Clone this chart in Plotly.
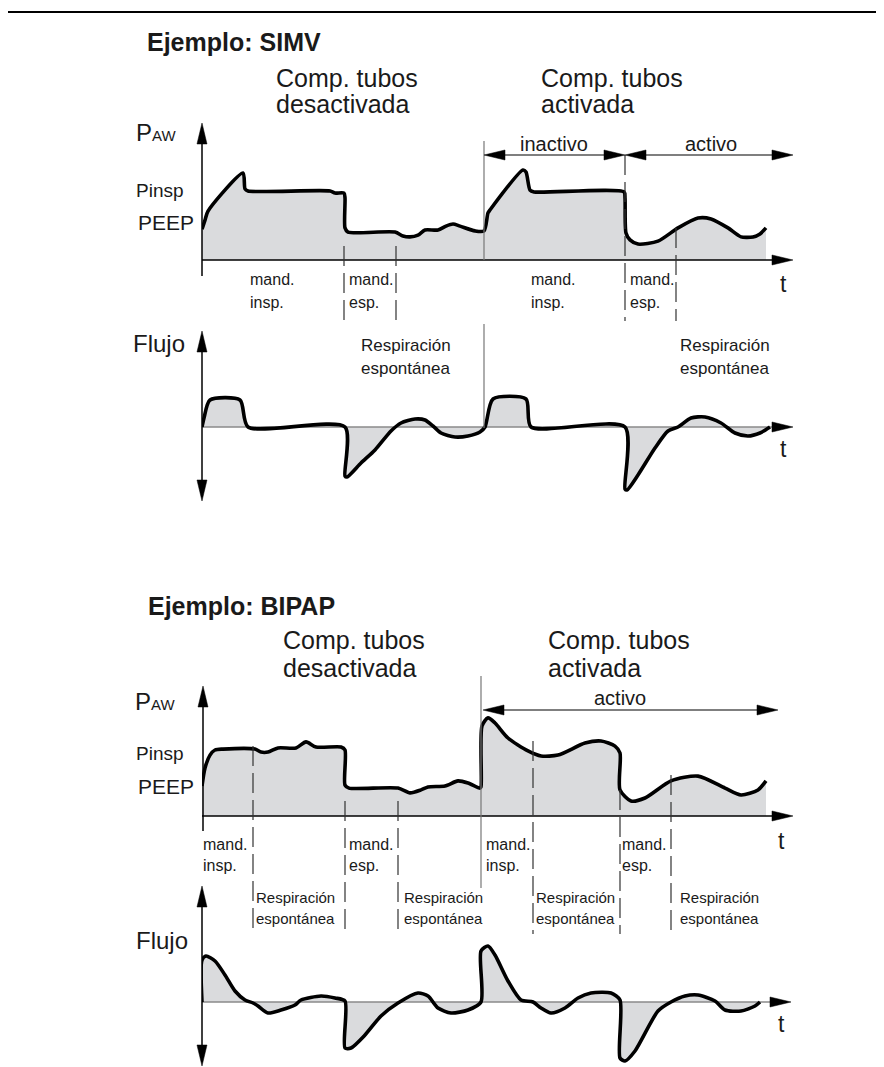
import plotly.graph_objects as go

W, H = 884, 1067
FONT = 'Arial, Liberation Sans, Helvetica, sans-serif'
INK = '#1a1a1a'
FILL = '#dadbdd'

# time in arbitrary units (same scale for all four traces)
# SIMV - airway pressure (cmH2O-like units)
simv_p_t = [0.0, 0.3, 0.6, 4.1, 4.3, 4.6, 12.8, 13.3, 14.2, 14.3, 14.3, 14.6, 19.3, 20.1,
            20.8, 21.6, 22.3, 23.6, 24.4, 25.1, 25.8, 27.3, 28.2, 28.6, 28.8, 32.1, 32.4,
            32.8, 33.2, 42.2, 42.3, 42.4, 42.8, 43.6, 45.6, 47.6, 49.6, 50.9, 52.6, 53.9,
            55.1, 55.8, 56.4]
simv_p = [10.3, 13.3, 16.3, 29.0, 23.7, 23.0, 23.0, 22.3, 22.3, 20.7, 10.7, 9.3, 9.3, 8.0,
          7.7, 8.3, 10.0, 10.0, 11.3, 12.0, 11.3, 9.7, 9.7, 15.7, 16.7, 30.0, 29.3,
          23.3, 22.7, 22.7, 20.7, 9.0, 6.7, 5.3, 6.3, 10.7, 14.0, 13.7, 10.7, 7.7,
          7.7, 8.7, 10.7]

# SIMV - flow
simv_f_t = [0.0, 0.2, 0.8, 3.8, 4.6, 14.3, 14.3, 14.5, 15.9, 17.3, 18.9, 19.9, 21.3, 22.3,
            23.1, 23.9, 25.3, 26.6, 27.8, 28.3, 29.1, 32.4, 32.9, 42.3, 42.3, 42.5, 43.6,
            45.3, 46.6, 47.6, 48.9, 50.3, 51.9, 53.3, 54.6, 55.8, 56.8]
simv_f = [0, 9, 27, 27, 0, 0, -49, -50, -36, -23, -4, 4, 8, 7,
          1, -6, -10, -9, -5, 0, 28, 28, 0, 0, -62, -63, -48,
          -21, -4, 0, 9, 10, 4, -6, -9, -6, 0]

# BIPAP - airway pressure
bipap_p_t = [0.0, 0.3, 0.8, 1.3, 2.1, 5.3, 5.9, 6.6, 7.6, 9.4, 10.4, 11.4, 13.9, 14.3,
             14.3, 14.7, 19.6, 20.8, 21.9, 22.6, 24.3, 25.6, 26.6, 27.8, 27.9, 28.0, 28.6,
             29.3, 30.6, 32.6, 33.9, 35.6, 38.3, 39.9, 41.3, 41.8, 41.8, 42.9, 44.3, 46.9,
             49.6, 52.3, 53.9, 55.6, 56.4]
bipap_p = [10.0, 16.0, 20.3, 22.0, 22.3, 22.3, 21.3, 21.3, 22.7, 22.7, 24.7, 23.0, 23.0, 22.0,
           10.3, 9.3, 9.3, 7.7, 8.7, 9.7, 10.0, 11.7, 11.0, 9.3, 9.7, 30.0, 32.7,
           31.0, 26.0, 21.7, 20.0, 20.3, 24.3, 25.0, 23.3, 21.0, 8.7, 5.0, 6.0, 11.7,
           13.3, 9.3, 7.0, 8.7, 11.7]

# BIPAP - flow
bipap_f_t = [0.0, 0.0, 0.4, 1.3, 2.3, 3.3, 4.3, 5.1, 5.6, 6.6, 7.9, 9.3, 9.9, 11.9, 13.3,
             14.3, 14.3, 14.9, 16.3, 17.9, 19.6, 21.6, 22.6, 23.6, 24.9, 26.6, 27.9, 27.9,
             28.6, 29.3, 30.6, 31.9, 33.1, 33.9, 34.9, 36.3, 37.6, 38.9, 40.9, 41.8, 41.8,
             42.3, 43.3, 45.6, 46.9, 48.3, 49.6, 51.3, 52.3, 53.9, 55.3, 55.8]
bipap_f = [0, 42, 46, 41, 27, 11, 2, -1, -4, -11, -8, -3, 2, 6, 4,
           1, -46, -46, -33, -14, -1, 9, 6, -6, -11, -8, 0, 51,
           56, 47, 21, 2, 0, -6, -11, -6, 4, 9, 9, 2, -56,
           -59, -49, -9, 0, 6, 7, 1, -8, -9, -4, 0]


def fx(x):
    return x / W


def fy(y):
    return 1 - y / H


fig = go.Figure()

# panel: axis suffix, data, top px, bottom px, y range, baseline colour
panels = [
    ('', simv_p_t, simv_p, 114, 270, [-6, 46], 'black'),
    ('2', simv_f_t, simv_f, 320, 500, [-81, 99], '#8a8a8a'),
    ('3', bipap_p_t, bipap_p, 676, 826, [-6, 44], 'black'),
    ('4', bipap_f_t, bipap_f, 876, 1062, [-68, 118], '#8a8a8a'),
]

axes = {}
for sfx, t, v, top, bot, yr, base_col in panels:
    xa, ya = 'x' + sfx, 'y' + sfx
    fig.add_trace(go.Scatter(x=t, y=v, mode='lines', fill='tozeroy', fillcolor=FILL,
                             line=dict(width=0, shape='spline', smoothing=0.7),
                             xaxis=xa, yaxis=ya, hoverinfo='skip'))
    fig.add_trace(go.Scatter(x=[0, 58], y=[0, 0], mode='lines',
                             line=dict(color=base_col, width=1.5),
                             xaxis=xa, yaxis=ya, hoverinfo='skip'))
    fig.add_trace(go.Scatter(x=t, y=v, mode='lines',
                             line=dict(color='black', width=3.6, shape='spline', smoothing=0.7),
                             xaxis=xa, yaxis=ya, hoverinfo='skip'))
    axes['xaxis' + sfx] = dict(domain=[fx(194), fx(784)], range=[0, 59], visible=False,
                               anchor=ya, fixedrange=True)
    axes['yaxis' + sfx] = dict(domain=[fy(bot), fy(top)], range=yr, visible=False,
                               anchor=xa, fixedrange=True)

shapes = []
annots = []


def seg(x0, y0, x1, y1, color='black', width=1.5, dash='solid'):
    shapes.append(dict(type='line', xref='paper', yref='paper',
                       x0=fx(x0), y0=fy(y0), x1=fx(x1), y1=fy(y1),
                       line=dict(color=color, width=width, dash=dash)))


def head(tx, ty, d, length=21, half=5):
    if d == 'right':
        pts = [(tx, ty), (tx - length, ty - half), (tx - length, ty + half)]
    elif d == 'left':
        pts = [(tx, ty), (tx + length, ty - half), (tx + length, ty + half)]
    elif d == 'up':
        pts = [(tx, ty), (tx - half, ty + length), (tx + half, ty + length)]
    else:
        pts = [(tx, ty), (tx - half, ty - length), (tx + half, ty - length)]
    path = 'M ' + ' L '.join(f'{fx(a):.5f},{fy(b):.5f}' for a, b in pts) + ' Z'
    shapes.append(dict(type='path', xref='paper', yref='paper', path=path,
                       fillcolor='black', line=dict(color='black', width=0.5)))


def text(x, y, s, size, bold=False, anchor='left'):
    annots.append(dict(xref='paper', yref='paper', x=fx(x), y=fy(y),
                       text=f'<b>{s}</b>' if bold else s, showarrow=False,
                       xanchor=anchor, yanchor='middle',
                       font=dict(size=size, color=INK, family=FONT)))


def dashed(x, y0, y1):
    seg(x, y0, x, y1, color='#333333', width=1.2, dash='20px,7px')


# top rule
seg(0, 4, W, 4, width=2)

# ---------- SIMV ----------
text(137, 34, 'Ejemplo: SIMV', 25, bold=True)
text(266, 70, 'Comp. tubos', 25)
text(266, 96, 'desactivada', 25)
text(531, 70, 'Comp. tubos', 25)
text(531, 96, 'activada', 25)

# pressure axes
seg(194, 268, 194, 132)
head(194, 115, 'up')
head(785, 252, 'right')
text(126, 124, 'P<span style="font-size:15px">AW</span>', 24)
text(126, 183, 'Pinsp', 19)
text(128, 214, 'PEEP', 21)
text(770, 276, 't', 23)

# flow axes
seg(194, 338, 194, 478)
head(194, 323, 'up')
head(194, 493, 'down')
head(785, 419, 'right')
text(123, 335, 'Flujo', 24)
text(770, 441, 't', 23)

# phase markers
seg(476, 133, 476, 252, color='#777777', width=1.2)
seg(476, 316, 476, 420, color='#777777', width=1.2)
for x, y0 in [(336, 238), (388, 238), (617, 147), (668, 220)]:
    dashed(x, y0, 313)

# inactivo / activo arrows
seg(490, 147, 603, 147, width=1.2)
head(476, 147, 'left')
head(617, 147, 'right')
seg(631, 147, 770, 147, width=1.2)
head(617, 147, 'left')
head(785, 147, 'right')
text(546, 136, 'inactivo', 20, anchor='center')
text(703, 136, 'activo', 20, anchor='center')

for x, a, b in [(240, 'mand.', 'insp.'), (339, 'mand.', 'esp.'),
                (521, 'mand.', 'insp.'), (620, 'mand.', 'esp.')]:
    text(x, 271, a, 16)
    text(x, 295, b, 16)
for x in [351, 670]:
    text(x, 337, 'Respiración', 17)
    text(x, 361, 'espontánea', 17)

# ---------- BIPAP ----------
text(138, 598, 'Ejemplo: BIPAP', 25, bold=True)
text(273, 632, 'Comp. tubos', 25)
text(273, 660, 'desactivada', 25)
text(538, 632, 'Comp. tubos', 25)
text(538, 660, 'activada', 25)

seg(195, 823, 195, 695)
head(195, 678, 'up')
head(785, 808, 'right')
text(125, 693, 'P<span style="font-size:15px">AW</span>', 24)
text(126, 745, 'Pinsp', 19)
text(128, 778, 'PEEP', 21)
text(768, 833, 't', 23)

seg(194, 893, 194, 1043)
head(194, 878, 'up')
head(194, 1058, 'down')
head(783, 994, 'right')
text(126, 932, 'Flujo', 24)
text(768, 1016, 't', 23)

seg(473, 668, 473, 880, color='#777777', width=1.2)
for x, y0 in [(245, 738), (337, 793), (390, 793), (525, 733), (612, 782), (663, 767)]:
    dashed(x, y0, 926)

seg(489, 702, 755, 702, width=1.2)
head(475, 702, 'left')
head(770, 702, 'right')
text(612, 690, 'activo', 20, anchor='center')

for x, a, b in [(193, 'mand.', 'insp.'), (339, 'mand.', 'esp.'),
                (476, 'mand.', 'insp.'), (612, 'mand.', 'esp.')]:
    text(x, 836, a, 16)
    text(x, 857, b, 16)
for x in [246, 394, 526, 670]:
    text(x, 889, 'Respiración', 15)
    text(x, 910, 'espontánea', 15)

fig.update_layout(
    width=W, height=H, autosize=False,
    margin=dict(l=0, r=0, t=0, b=0),
    paper_bgcolor='white', plot_bgcolor='white',
    showlegend=False,
    shapes=shapes, annotations=annots,
    **axes
)

fig.write_html('out.html')
